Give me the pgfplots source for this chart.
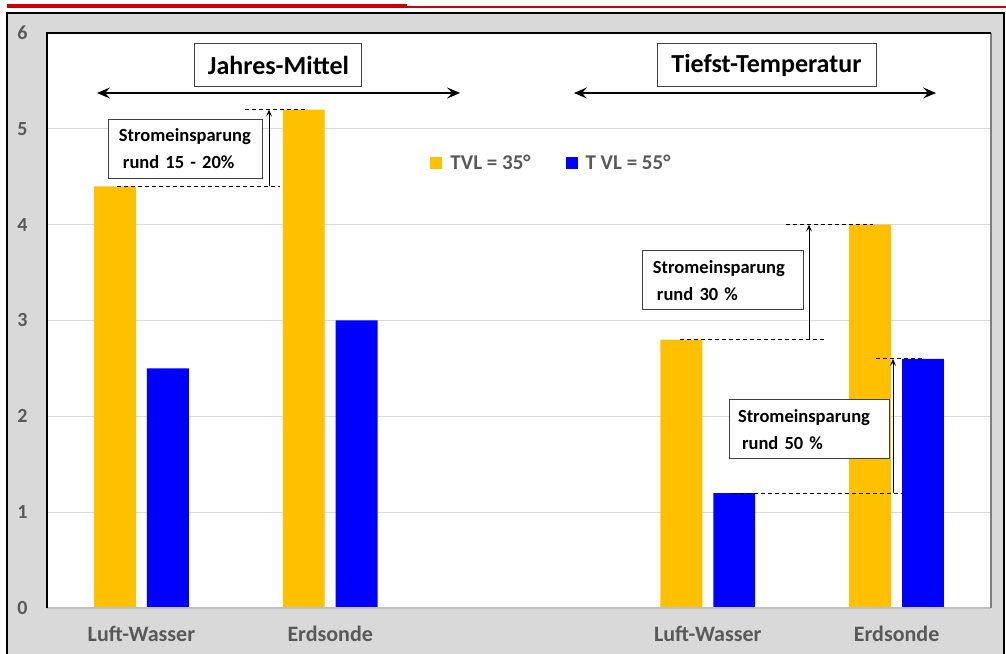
\documentclass[border=0pt]{standalone}
\usepackage{fontspec}
\setmainfont{Carlito}
\usepackage{pgfplots}
\pgfplotsset{compat=1.18}
\usetikzlibrary{arrows.meta}
\definecolor{tickgray}{HTML}{595959}
\definecolor{bgray}{HTML}{D9D9D9}
\definecolor{gridgray}{HTML}{D9D9D9}
\definecolor{botgray}{HTML}{BFBFBF}
\definecolor{rightgray}{HTML}{7F7F7F}
\definecolor{boxgray}{HTML}{404040}
\definecolor{barY}{HTML}{FFC000}
\definecolor{barB}{HTML}{0000FF}
\definecolor{redline}{HTML}{CC0000}
\begin{document}
\begin{tikzpicture}[x=1pt,y=1pt,
  dashline/.style={black, line width=0.8pt, dash pattern=on 4pt off 3pt},
  thinarrow/.style={black, line width=0.9pt, -{Stealth[length=7pt,width=6pt,inset=3pt]}},
  bigarrow/.style={black, line width=2pt, {Stealth[length=13pt,width=11pt,inset=5pt]}-{Stealth[length=13pt,width=11pt,inset=5pt]}},
  anno/.style={draw=boxgray, line width=1pt, fill=white, align=left, inner sep=0pt,
     minimum height=59pt, font=\fontsize{18.5}{27}\selectfont\bfseries, text=black},
  titlebox/.style={draw=boxgray, line width=1pt, fill=white, minimum height=43pt,
     font=\fontsize{26}{30}\selectfont\bfseries, text=black}]
\useasboundingbox (0,0) rectangle (1006,653);
\clip (0,0) rectangle (1006,653);
\fill[bgray] (7,-10) rectangle (1004,640);
\draw[black, line width=1.2pt] (7,-10) -- (7,640) -- (1004,640) -- (1004,-10);
\fill[redline] (7,645) rectangle (407,649);
\fill[redline] (407,645) rectangle (1006,647);
\begin{axis}[
  at={(47pt,45pt)}, anchor=south west, scale only axis,
  width=944pt, height=575pt,
  xmin=-0.5, xmax=4.5, ymin=0, ymax=6,
  axis background/.style={fill=white},
  axis line style={draw=none},
  tick style={draw=none},
  major tick length=0pt,
  ybar, bar width=0.222,
  xtick={0,1,3,4}, xticklabels={Luft-Wasser,Erdsonde,Luft-Wasser,Erdsonde},
  ytick={0,1,2,3,4,5,6},
  ymajorgrids, grid style={gridgray, line width=1pt},
  /pgf/number format/assume math mode=true,
  yticklabel style={font=\fontsize{20}{22}\selectfont\bfseries, text=tickgray, xshift=-16pt},
  xticklabel style={font=\fontsize{22}{24}\selectfont\bfseries, text=tickgray, yshift=-15pt},
  legend style={at={(rel axis cs:0.406,0.774)}, anchor=west, draw=none, fill=none,
     font=\fontsize{21}{24}\selectfont\bfseries, text=tickgray, inner sep=0pt,
     /tikz/every odd column/.append style={column sep=6pt},
     /tikz/every even column/.append style={column sep=33pt}},
  legend columns=2,
  legend image code/.code={\fill[#1] (0pt,-6pt) rectangle (12pt,6pt);},
  clip=false,
]
\addplot[fill=barY, draw=none, bar shift=-0.14] coordinates {(0,4.4) (1,5.2) (3,2.8) (4,4.0)};
\addplot[fill=barB, draw=none, bar shift=0.14] coordinates {(0,2.5) (1,3.0) (3,1.2) (4,2.6)};
\legend{TVL = 35°, T VL = 55°}
% frame of the plot area
\draw[botgray, line width=2pt] (rel axis cs:0,0) -- (rel axis cs:1,0);
\draw[rightgray, line width=2pt] (rel axis cs:1,0) -- (rel axis cs:1,1);
\draw[black, line width=1.5pt] (rel axis cs:0,0) -- (rel axis cs:0,1) -- (rel axis cs:1,1);
% titles
\node[titlebox, minimum width=167pt] at (axis cs:0.726,5.661) {Jahres-Mittel};
\node[titlebox, minimum width=219pt] at (axis cs:3.311,5.661) {Tiefst-Temperatur};
\draw[bigarrow] (axis cs:-0.235,5.374) -- (axis cs:1.688,5.374);
\draw[bigarrow] (axis cs:2.291,5.374) -- (axis cs:4.209,5.374);
% annotation 1
\draw[dashline] (axis cs:0.549,5.2) -- (axis cs:0.867,5.2);
\draw[dashline] (axis cs:-0.129,4.4) -- (axis cs:0.734,4.4);
\draw[thinarrow] (axis cs:0.676,4.4) -- (axis cs:0.676,5.2);
\node[anno, minimum width=154pt, text width=134pt] at (axis cs:0.236,4.790) {Stromeinsparung\\\hspace*{4pt}rund 15 - 20\%};
% annotation 2
\draw[dashline] (axis cs:3.414,4.0) -- (axis cs:3.875,4.0);
\draw[dashline] (axis cs:2.853,2.8) -- (axis cs:3.615,2.8);
\draw[thinarrow] (axis cs:3.536,2.8) -- (axis cs:3.536,4.0);
\node[anno, minimum width=161pt, text width=141pt] at (axis cs:3.083,3.418) {Stromeinsparung\\\hspace*{4pt}rund 30 \%};
% annotation 3
\draw[dashline] (axis cs:3.891,2.6) -- (axis cs:4.134,2.6);
\draw[dashline] (axis cs:3.134,1.2) -- (axis cs:4.034,1.2);
\draw[thinarrow] (axis cs:3.981,1.2) -- (axis cs:3.981,2.6);
\node[anno, minimum width=160pt, text width=142pt] at (axis cs:3.536,1.863) {Stromeinsparung\\\hspace*{4pt}rund 50 \%};
\end{axis}
\end{tikzpicture}
\end{document}
